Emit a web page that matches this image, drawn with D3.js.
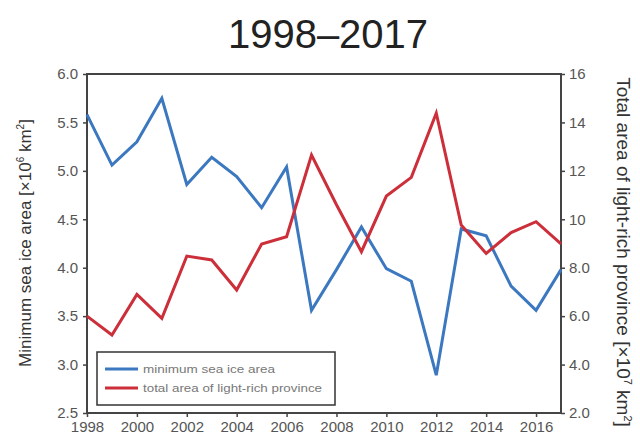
<!DOCTYPE html>
<html>
<head>
<meta charset="utf-8">
<script src="https://cdn.jsdelivr.net/npm/d3@7"></script>
<style>
  html, body { margin: 0; padding: 0; background: #fff; }
  svg { display: block; font-family: "Liberation Sans", Arial, Helvetica, sans-serif; }
</style>
</head>
<body>
<svg id="chart" width="640" height="441"></svg>
<script>
// Yearly series, 1998–2017
const years = d3.range(1998, 2018);
const seaIceArea = [5.58, 5.06, 5.30, 5.75, 4.86, 5.14, 4.94, 4.62, 5.04, 3.56,
                    3.98, 4.42, 3.99, 3.86, 2.89, 4.40, 4.33, 3.81, 3.56, 3.98];
const lightRichArea = [6.0, 5.22, 6.90, 5.91, 8.48, 8.32, 7.08, 8.98, 9.28, 12.65,
                       10.6, 8.66, 10.96, 11.73, 14.38, 9.76, 8.59, 9.45, 9.90, 8.98];
const xTicks = d3.range(1998, 2018, 2);
const leftTicks = [2.5, 3.0, 3.5, 4.0, 4.5, 5.0, 5.5, 6.0];
const rightTicks = [2, 4, 6, 8, 10, 12, 14, 16];
const seriesNames = ["minimum sea ice area", "total area of light-rich province"];
const seriesColors = ["#3b78c0", "#cc2f3a"];

const svg = d3.select("#chart");
const m = { left: 87, right: 561, top: 74, bottom: 413 };

const x = d3.scaleLinear().domain([1998, 2017]).range([m.left, m.right]);
const yL = d3.scaleLinear().domain([2.5, 6.0]).range([m.bottom, m.top]);
const yR = d3.scaleLinear().domain([2, 16]).range([m.bottom, m.top]);

// Title
svg.append("text")
  .attr("x", 328).attr("y", 48)
  .attr("text-anchor", "middle")
  .attr("font-size", 40)
  .attr("fill", "#222")
  .text("1998–2017");

// Plot frame
svg.append("rect")
  .attr("x", m.left).attr("y", m.top)
  .attr("width", m.right - m.left).attr("height", m.bottom - m.top)
  .attr("fill", "none").attr("stroke", "#444").attr("stroke-width", 2);

// Axes
const styleAxis = g => {
  g.select(".domain").remove();
  g.selectAll(".tick line").attr("stroke", "#444").attr("stroke-width", 1.5);
  g.selectAll(".tick text").attr("fill", "#555").attr("font-size", 15)
    .attr("font-family", "'Liberation Sans', Arial, sans-serif");
};

svg.append("g")
  .attr("transform", `translate(0,${m.bottom})`)
  .call(d3.axisBottom(x).tickValues(xTicks).tickFormat(d3.format("d")).tickSize(4).tickPadding(4))
  .call(styleAxis);

svg.append("g")
  .attr("transform", `translate(${m.left},0)`)
  .call(d3.axisLeft(yL).tickValues(leftTicks).tickFormat(d3.format(".1f")).tickSize(4).tickPadding(5))
  .call(styleAxis);

svg.append("g")
  .attr("transform", `translate(${m.right},0)`)
  .call(d3.axisRight(yR).tickValues(rightTicks)
    .tickFormat(d => d < 10 ? d3.format(".1f")(d) : d3.format("d")(d)).tickSize(4).tickPadding(4))
  .call(styleAxis);

// Axis titles
svg.append("text")
  .attr("transform", `translate(31,243) rotate(-90)`)
  .attr("text-anchor", "middle")
  .attr("font-size", 17)
  .attr("fill", "#333")
  .html("Minimum sea ice area [×10<tspan dy='-7' font-size='10'>6</tspan><tspan dy='7'> km</tspan><tspan dy='-7' font-size='10'>2</tspan><tspan dy='7'>]</tspan>");

svg.append("text")
  .attr("transform", `translate(617,252) rotate(90)`)
  .attr("text-anchor", "middle")
  .attr("font-size", 19)
  .attr("fill", "#333")
  .html("Total area of light-rich province [×10<tspan dy='-7' font-size='11'>7</tspan><tspan dy='7'> km</tspan><tspan dy='-7' font-size='11'>2</tspan><tspan dy='7'>]</tspan>");

// Series lines
const lineL = d3.line().x((d, i) => x(years[i])).y(d => yL(d));
const lineR = d3.line().x((d, i) => x(years[i])).y(d => yR(d));

svg.append("path").datum(seaIceArea)
  .attr("d", lineL).attr("fill", "none")
  .attr("stroke", seriesColors[0]).attr("stroke-width", 3).attr("stroke-linejoin", "miter");

svg.append("path").datum(lightRichArea)
  .attr("d", lineR).attr("fill", "none")
  .attr("stroke", seriesColors[1]).attr("stroke-width", 3).attr("stroke-linejoin", "miter");

// Legend
const legend = svg.append("g");
legend.append("rect")
  .attr("x", 97).attr("y", 352).attr("width", 238).attr("height", 53)
  .attr("fill", "#fff").attr("stroke", "#333").attr("stroke-width", 1.5);
const legendTextWidths = [132, 179];
seriesNames.forEach((name, i) => {
  const ly = 369 + i * 19;
  legend.append("line")
    .attr("x1", 105).attr("x2", 138).attr("y1", ly).attr("y2", ly)
    .attr("stroke", seriesColors[i]).attr("stroke-width", 3);
  legend.append("text")
    .attr("x", 143).attr("y", ly + 4)
    .attr("font-size", 11).attr("fill", "#777")
    .attr("textLength", legendTextWidths[i]).attr("lengthAdjust", "spacingAndGlyphs")
    .text(name);
});
</script>
</body>
</html>
